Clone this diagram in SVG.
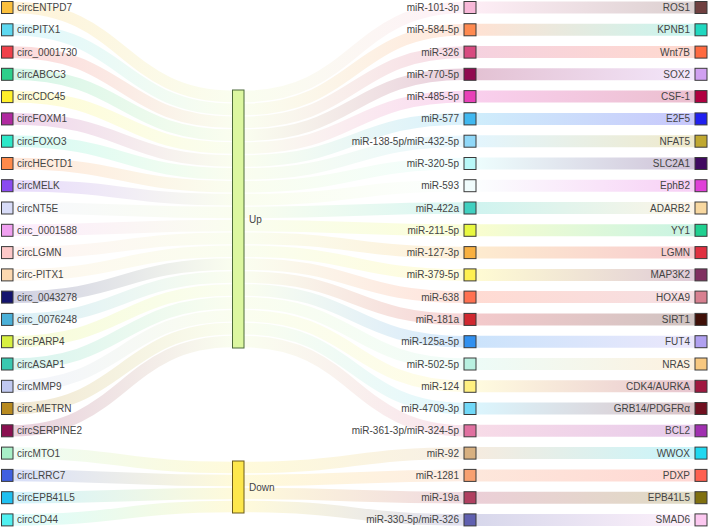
<svg xmlns="http://www.w3.org/2000/svg" width="709" height="528" viewBox="0 0 709 528">
<style>
.lk{fill:none;stroke-width:11.6;stroke-opacity:0.2}
.rk{fill:none;stroke-width:12;stroke-opacity:0.25}
.sq{stroke:#3a3a3a;stroke-width:1}
.t{font-family:"Liberation Sans",Arial,sans-serif;font-size:10px;fill:#444}
.e{text-anchor:end}
</style>
<defs>
<linearGradient id="gl0" gradientUnits="userSpaceOnUse" x1="13" x2="233"><stop offset="0" stop-color="#fbbf3c"/><stop offset="1" stop-color="#e6f7b0"/></linearGradient>
<linearGradient id="gl1" gradientUnits="userSpaceOnUse" x1="13" x2="233"><stop offset="0" stop-color="#5dd8f0"/><stop offset="1" stop-color="#e6f7b0"/></linearGradient>
<linearGradient id="gl2" gradientUnits="userSpaceOnUse" x1="13" x2="233"><stop offset="0" stop-color="#f0404a"/><stop offset="1" stop-color="#e6f7b0"/></linearGradient>
<linearGradient id="gl3" gradientUnits="userSpaceOnUse" x1="13" x2="233"><stop offset="0" stop-color="#2ecf8a"/><stop offset="1" stop-color="#e6f7b0"/></linearGradient>
<linearGradient id="gl4" gradientUnits="userSpaceOnUse" x1="13" x2="233"><stop offset="0" stop-color="#fff02a"/><stop offset="1" stop-color="#e6f7b0"/></linearGradient>
<linearGradient id="gl5" gradientUnits="userSpaceOnUse" x1="13" x2="233"><stop offset="0" stop-color="#b02aa0"/><stop offset="1" stop-color="#e6f7b0"/></linearGradient>
<linearGradient id="gl6" gradientUnits="userSpaceOnUse" x1="13" x2="233"><stop offset="0" stop-color="#2ee8c8"/><stop offset="1" stop-color="#e6f7b0"/></linearGradient>
<linearGradient id="gl7" gradientUnits="userSpaceOnUse" x1="13" x2="233"><stop offset="0" stop-color="#ff8a4a"/><stop offset="1" stop-color="#e6f7b0"/></linearGradient>
<linearGradient id="gl8" gradientUnits="userSpaceOnUse" x1="13" x2="233"><stop offset="0" stop-color="#8a4af0"/><stop offset="1" stop-color="#e6f7b0"/></linearGradient>
<linearGradient id="gl9" gradientUnits="userSpaceOnUse" x1="13" x2="233"><stop offset="0" stop-color="#d8dcf8"/><stop offset="1" stop-color="#e6f7b0"/></linearGradient>
<linearGradient id="gl10" gradientUnits="userSpaceOnUse" x1="13" x2="233"><stop offset="0" stop-color="#f0a0f0"/><stop offset="1" stop-color="#e6f7b0"/></linearGradient>
<linearGradient id="gl11" gradientUnits="userSpaceOnUse" x1="13" x2="233"><stop offset="0" stop-color="#fcc8c8"/><stop offset="1" stop-color="#e6f7b0"/></linearGradient>
<linearGradient id="gl12" gradientUnits="userSpaceOnUse" x1="13" x2="233"><stop offset="0" stop-color="#fcd8b0"/><stop offset="1" stop-color="#e6f7b0"/></linearGradient>
<linearGradient id="gl13" gradientUnits="userSpaceOnUse" x1="13" x2="233"><stop offset="0" stop-color="#14146e"/><stop offset="1" stop-color="#e6f7b0"/></linearGradient>
<linearGradient id="gl14" gradientUnits="userSpaceOnUse" x1="13" x2="233"><stop offset="0" stop-color="#4ab0d8"/><stop offset="1" stop-color="#e6f7b0"/></linearGradient>
<linearGradient id="gl15" gradientUnits="userSpaceOnUse" x1="13" x2="233"><stop offset="0" stop-color="#d8f040"/><stop offset="1" stop-color="#e6f7b0"/></linearGradient>
<linearGradient id="gl16" gradientUnits="userSpaceOnUse" x1="13" x2="233"><stop offset="0" stop-color="#3ac8b0"/><stop offset="1" stop-color="#e6f7b0"/></linearGradient>
<linearGradient id="gl17" gradientUnits="userSpaceOnUse" x1="13" x2="233"><stop offset="0" stop-color="#c0c8f0"/><stop offset="1" stop-color="#e6f7b0"/></linearGradient>
<linearGradient id="gl18" gradientUnits="userSpaceOnUse" x1="13" x2="233"><stop offset="0" stop-color="#b88a20"/><stop offset="1" stop-color="#e6f7b0"/></linearGradient>
<linearGradient id="gl19" gradientUnits="userSpaceOnUse" x1="13" x2="233"><stop offset="0" stop-color="#8a1050"/><stop offset="1" stop-color="#e6f7b0"/></linearGradient>
<linearGradient id="gl20" gradientUnits="userSpaceOnUse" x1="13" x2="233"><stop offset="0" stop-color="#a8f0c8"/><stop offset="1" stop-color="#fde74c"/></linearGradient>
<linearGradient id="gl21" gradientUnits="userSpaceOnUse" x1="13" x2="233"><stop offset="0" stop-color="#4060e0"/><stop offset="1" stop-color="#fde74c"/></linearGradient>
<linearGradient id="gl22" gradientUnits="userSpaceOnUse" x1="13" x2="233"><stop offset="0" stop-color="#20c0f0"/><stop offset="1" stop-color="#fde74c"/></linearGradient>
<linearGradient id="gl23" gradientUnits="userSpaceOnUse" x1="13" x2="233"><stop offset="0" stop-color="#50f0f0"/><stop offset="1" stop-color="#fde74c"/></linearGradient>

<linearGradient id="gm0" gradientUnits="userSpaceOnUse" x1="244" x2="464"><stop offset="0" stop-color="#e6f7b0"/><stop offset="1" stop-color="#f8b8d8"/></linearGradient>
<linearGradient id="gm1" gradientUnits="userSpaceOnUse" x1="244" x2="464"><stop offset="0" stop-color="#e6f7b0"/><stop offset="1" stop-color="#ff8a50"/></linearGradient>
<linearGradient id="gm2" gradientUnits="userSpaceOnUse" x1="244" x2="464"><stop offset="0" stop-color="#e6f7b0"/><stop offset="1" stop-color="#d84a80"/></linearGradient>
<linearGradient id="gm3" gradientUnits="userSpaceOnUse" x1="244" x2="464"><stop offset="0" stop-color="#e6f7b0"/><stop offset="1" stop-color="#900a50"/></linearGradient>
<linearGradient id="gm4" gradientUnits="userSpaceOnUse" x1="244" x2="464"><stop offset="0" stop-color="#e6f7b0"/><stop offset="1" stop-color="#e840b8"/></linearGradient>
<linearGradient id="gm5" gradientUnits="userSpaceOnUse" x1="244" x2="464"><stop offset="0" stop-color="#e6f7b0"/><stop offset="1" stop-color="#40b8f0"/></linearGradient>
<linearGradient id="gm6" gradientUnits="userSpaceOnUse" x1="244" x2="464"><stop offset="0" stop-color="#e6f7b0"/><stop offset="1" stop-color="#90d8f8"/></linearGradient>
<linearGradient id="gm7" gradientUnits="userSpaceOnUse" x1="244" x2="464"><stop offset="0" stop-color="#e6f7b0"/><stop offset="1" stop-color="#b8f8f8"/></linearGradient>
<linearGradient id="gm8" gradientUnits="userSpaceOnUse" x1="244" x2="464"><stop offset="0" stop-color="#e6f7b0"/><stop offset="1" stop-color="#f0fcfc"/></linearGradient>
<linearGradient id="gm9" gradientUnits="userSpaceOnUse" x1="244" x2="464"><stop offset="0" stop-color="#e6f7b0"/><stop offset="1" stop-color="#40d0c0"/></linearGradient>
<linearGradient id="gm10" gradientUnits="userSpaceOnUse" x1="244" x2="464"><stop offset="0" stop-color="#e6f7b0"/><stop offset="1" stop-color="#e8f840"/></linearGradient>
<linearGradient id="gm11" gradientUnits="userSpaceOnUse" x1="244" x2="464"><stop offset="0" stop-color="#e6f7b0"/><stop offset="1" stop-color="#f8b040"/></linearGradient>
<linearGradient id="gm12" gradientUnits="userSpaceOnUse" x1="244" x2="464"><stop offset="0" stop-color="#e6f7b0"/><stop offset="1" stop-color="#fff050"/></linearGradient>
<linearGradient id="gm13" gradientUnits="userSpaceOnUse" x1="244" x2="464"><stop offset="0" stop-color="#e6f7b0"/><stop offset="1" stop-color="#ff7050"/></linearGradient>
<linearGradient id="gm14" gradientUnits="userSpaceOnUse" x1="244" x2="464"><stop offset="0" stop-color="#e6f7b0"/><stop offset="1" stop-color="#d02830"/></linearGradient>
<linearGradient id="gm15" gradientUnits="userSpaceOnUse" x1="244" x2="464"><stop offset="0" stop-color="#e6f7b0"/><stop offset="1" stop-color="#3090f0"/></linearGradient>
<linearGradient id="gm16" gradientUnits="userSpaceOnUse" x1="244" x2="464"><stop offset="0" stop-color="#e6f7b0"/><stop offset="1" stop-color="#b8f0e0"/></linearGradient>
<linearGradient id="gm17" gradientUnits="userSpaceOnUse" x1="244" x2="464"><stop offset="0" stop-color="#e6f7b0"/><stop offset="1" stop-color="#fff080"/></linearGradient>
<linearGradient id="gm18" gradientUnits="userSpaceOnUse" x1="244" x2="464"><stop offset="0" stop-color="#e6f7b0"/><stop offset="1" stop-color="#70d8f8"/></linearGradient>
<linearGradient id="gm19" gradientUnits="userSpaceOnUse" x1="244" x2="464"><stop offset="0" stop-color="#e6f7b0"/><stop offset="1" stop-color="#e070a0"/></linearGradient>
<linearGradient id="gm20" gradientUnits="userSpaceOnUse" x1="244" x2="464"><stop offset="0" stop-color="#fde74c"/><stop offset="1" stop-color="#d8b080"/></linearGradient>
<linearGradient id="gm21" gradientUnits="userSpaceOnUse" x1="244" x2="464"><stop offset="0" stop-color="#fde74c"/><stop offset="1" stop-color="#f8a070"/></linearGradient>
<linearGradient id="gm22" gradientUnits="userSpaceOnUse" x1="244" x2="464"><stop offset="0" stop-color="#fde74c"/><stop offset="1" stop-color="#b04060"/></linearGradient>
<linearGradient id="gm23" gradientUnits="userSpaceOnUse" x1="244" x2="464"><stop offset="0" stop-color="#fde74c"/><stop offset="1" stop-color="#6060b0"/></linearGradient>

<linearGradient id="gr0" gradientUnits="userSpaceOnUse" x1="476" x2="695"><stop offset="0" stop-color="#f8b8d8"/><stop offset="1" stop-color="#704040"/></linearGradient>
<linearGradient id="gr1" gradientUnits="userSpaceOnUse" x1="476" x2="695"><stop offset="0" stop-color="#ff8a50"/><stop offset="1" stop-color="#20d8c0"/></linearGradient>
<linearGradient id="gr2" gradientUnits="userSpaceOnUse" x1="476" x2="695"><stop offset="0" stop-color="#d84a80"/><stop offset="1" stop-color="#ff6a40"/></linearGradient>
<linearGradient id="gr3" gradientUnits="userSpaceOnUse" x1="476" x2="695"><stop offset="0" stop-color="#900a50"/><stop offset="1" stop-color="#d0a0f0"/></linearGradient>
<linearGradient id="gr4" gradientUnits="userSpaceOnUse" x1="476" x2="695"><stop offset="0" stop-color="#e840b8"/><stop offset="1" stop-color="#b00040"/></linearGradient>
<linearGradient id="gr5" gradientUnits="userSpaceOnUse" x1="476" x2="695"><stop offset="0" stop-color="#40b8f0"/><stop offset="1" stop-color="#2020f0"/></linearGradient>
<linearGradient id="gr6" gradientUnits="userSpaceOnUse" x1="476" x2="695"><stop offset="0" stop-color="#90d8f8"/><stop offset="1" stop-color="#c0a830"/></linearGradient>
<linearGradient id="gr7" gradientUnits="userSpaceOnUse" x1="476" x2="695"><stop offset="0" stop-color="#b8f8f8"/><stop offset="1" stop-color="#400a60"/></linearGradient>
<linearGradient id="gr8" gradientUnits="userSpaceOnUse" x1="476" x2="695"><stop offset="0" stop-color="#f0fcfc"/><stop offset="1" stop-color="#e040d8"/></linearGradient>
<linearGradient id="gr9" gradientUnits="userSpaceOnUse" x1="476" x2="695"><stop offset="0" stop-color="#40d0c0"/><stop offset="1" stop-color="#f8d8a0"/></linearGradient>
<linearGradient id="gr10" gradientUnits="userSpaceOnUse" x1="476" x2="695"><stop offset="0" stop-color="#e8f840"/><stop offset="1" stop-color="#20d090"/></linearGradient>
<linearGradient id="gr11" gradientUnits="userSpaceOnUse" x1="476" x2="695"><stop offset="0" stop-color="#f8b040"/><stop offset="1" stop-color="#e03040"/></linearGradient>
<linearGradient id="gr12" gradientUnits="userSpaceOnUse" x1="476" x2="695"><stop offset="0" stop-color="#fff050"/><stop offset="1" stop-color="#803060"/></linearGradient>
<linearGradient id="gr13" gradientUnits="userSpaceOnUse" x1="476" x2="695"><stop offset="0" stop-color="#ff7050"/><stop offset="1" stop-color="#d88090"/></linearGradient>
<linearGradient id="gr14" gradientUnits="userSpaceOnUse" x1="476" x2="695"><stop offset="0" stop-color="#d02830"/><stop offset="1" stop-color="#401008"/></linearGradient>
<linearGradient id="gr15" gradientUnits="userSpaceOnUse" x1="476" x2="695"><stop offset="0" stop-color="#3090f0"/><stop offset="1" stop-color="#b0a0f0"/></linearGradient>
<linearGradient id="gr16" gradientUnits="userSpaceOnUse" x1="476" x2="695"><stop offset="0" stop-color="#b8f0e0"/><stop offset="1" stop-color="#f8c880"/></linearGradient>
<linearGradient id="gr17" gradientUnits="userSpaceOnUse" x1="476" x2="695"><stop offset="0" stop-color="#fff080"/><stop offset="1" stop-color="#a01840"/></linearGradient>
<linearGradient id="gr18" gradientUnits="userSpaceOnUse" x1="476" x2="695"><stop offset="0" stop-color="#70d8f8"/><stop offset="1" stop-color="#701020"/></linearGradient>
<linearGradient id="gr19" gradientUnits="userSpaceOnUse" x1="476" x2="695"><stop offset="0" stop-color="#e070a0"/><stop offset="1" stop-color="#a030b0"/></linearGradient>
<linearGradient id="gr20" gradientUnits="userSpaceOnUse" x1="476" x2="695"><stop offset="0" stop-color="#d8b080"/><stop offset="1" stop-color="#20d8f0"/></linearGradient>
<linearGradient id="gr21" gradientUnits="userSpaceOnUse" x1="476" x2="695"><stop offset="0" stop-color="#f8a070"/><stop offset="1" stop-color="#ff6050"/></linearGradient>
<linearGradient id="gr22" gradientUnits="userSpaceOnUse" x1="476" x2="695"><stop offset="0" stop-color="#b04060"/><stop offset="1" stop-color="#807010"/></linearGradient>
<linearGradient id="gr23" gradientUnits="userSpaceOnUse" x1="476" x2="695"><stop offset="0" stop-color="#6060b0"/><stop offset="1" stop-color="#fcc8f0"/></linearGradient>
</defs>
<rect width="709" height="528" fill="#fff"/>
<g id="links">
<path class="lk" stroke="url(#gl0)" d="M13,7.5C123,7.5 123,96.45 233,96.45"/>
<path class="lk" stroke="url(#gl1)" d="M13,29.8C123,29.8 123,109.35 233,109.35"/>
<path class="lk" stroke="url(#gl2)" d="M13,52.1C123,52.1 123,122.25 233,122.25"/>
<path class="lk" stroke="url(#gl3)" d="M13,74.3C123,74.3 123,135.15 233,135.15"/>
<path class="lk" stroke="url(#gl4)" d="M13,96.6C123,96.6 123,148.05 233,148.05"/>
<path class="lk" stroke="url(#gl5)" d="M13,118.9C123,118.9 123,160.95 233,160.95"/>
<path class="lk" stroke="url(#gl6)" d="M13,141.2C123,141.2 123,173.85 233,173.85"/>
<path class="lk" stroke="url(#gl7)" d="M13,163.5C123,163.5 123,186.75 233,186.75"/>
<path class="lk" stroke="url(#gl8)" d="M13,185.7C123,185.7 123,199.65 233,199.65"/>
<path class="lk" stroke="url(#gl9)" d="M13,208C123,208 123,212.55 233,212.55"/>
<path class="lk" stroke="url(#gl10)" d="M13,230.3C123,230.3 123,225.45 233,225.45"/>
<path class="lk" stroke="url(#gl11)" d="M13,252.6C123,252.6 123,238.35 233,238.35"/>
<path class="lk" stroke="url(#gl12)" d="M13,274.9C123,274.9 123,251.25 233,251.25"/>
<path class="lk" stroke="url(#gl13)" d="M13,297.1C123,297.1 123,264.15 233,264.15"/>
<path class="lk" stroke="url(#gl14)" d="M13,319.4C123,319.4 123,277.05 233,277.05"/>
<path class="lk" stroke="url(#gl15)" d="M13,341.7C123,341.7 123,289.95 233,289.95"/>
<path class="lk" stroke="url(#gl16)" d="M13,364C123,364 123,302.85 233,302.85"/>
<path class="lk" stroke="url(#gl17)" d="M13,386.3C123,386.3 123,315.75 233,315.75"/>
<path class="lk" stroke="url(#gl18)" d="M13,408.5C123,408.5 123,328.65 233,328.65"/>
<path class="lk" stroke="url(#gl19)" d="M13,430.8C123,430.8 123,341.55 233,341.55"/>
<path class="lk" stroke="url(#gl20)" d="M13,453.1C123,453.1 123,467.5 233,467.5"/>
<path class="lk" stroke="url(#gl21)" d="M13,475.4C123,475.4 123,480.5 233,480.5"/>
<path class="lk" stroke="url(#gl22)" d="M13,497.7C123,497.7 123,493.5 233,493.5"/>
<path class="lk" stroke="url(#gl23)" d="M13,519.9C123,519.9 123,506.5 233,506.5"/>

<path class="lk" stroke="url(#gm0)" d="M244,96.45C354,96.45 354,7.5 464,7.5"/>
<path class="lk" stroke="url(#gm1)" d="M244,109.35C354,109.35 354,29.8 464,29.8"/>
<path class="lk" stroke="url(#gm2)" d="M244,122.25C354,122.25 354,52.1 464,52.1"/>
<path class="lk" stroke="url(#gm3)" d="M244,135.15C354,135.15 354,74.3 464,74.3"/>
<path class="lk" stroke="url(#gm4)" d="M244,148.05C354,148.05 354,96.6 464,96.6"/>
<path class="lk" stroke="url(#gm5)" d="M244,160.95C354,160.95 354,118.9 464,118.9"/>
<path class="lk" stroke="url(#gm6)" d="M244,173.85C354,173.85 354,141.2 464,141.2"/>
<path class="lk" stroke="url(#gm7)" d="M244,186.75C354,186.75 354,163.5 464,163.5"/>
<path class="lk" stroke="url(#gm8)" d="M244,199.65C354,199.65 354,185.7 464,185.7"/>
<path class="lk" stroke="url(#gm9)" d="M244,212.55C354,212.55 354,208 464,208"/>
<path class="lk" stroke="url(#gm10)" d="M244,225.45C354,225.45 354,230.3 464,230.3"/>
<path class="lk" stroke="url(#gm11)" d="M244,238.35C354,238.35 354,252.6 464,252.6"/>
<path class="lk" stroke="url(#gm12)" d="M244,251.25C354,251.25 354,274.9 464,274.9"/>
<path class="lk" stroke="url(#gm13)" d="M244,264.15C354,264.15 354,297.1 464,297.1"/>
<path class="lk" stroke="url(#gm14)" d="M244,277.05C354,277.05 354,319.4 464,319.4"/>
<path class="lk" stroke="url(#gm15)" d="M244,289.95C354,289.95 354,341.7 464,341.7"/>
<path class="lk" stroke="url(#gm16)" d="M244,302.85C354,302.85 354,364 464,364"/>
<path class="lk" stroke="url(#gm17)" d="M244,315.75C354,315.75 354,386.3 464,386.3"/>
<path class="lk" stroke="url(#gm18)" d="M244,328.65C354,328.65 354,408.5 464,408.5"/>
<path class="lk" stroke="url(#gm19)" d="M244,341.55C354,341.55 354,430.8 464,430.8"/>
<path class="lk" stroke="url(#gm20)" d="M244,467.5C354,467.5 354,453.1 464,453.1"/>
<path class="lk" stroke="url(#gm21)" d="M244,480.5C354,480.5 354,475.4 464,475.4"/>
<path class="lk" stroke="url(#gm22)" d="M244,493.5C354,493.5 354,497.7 464,497.7"/>
<path class="lk" stroke="url(#gm23)" d="M244,506.5C354,506.5 354,519.9 464,519.9"/>

<path class="rk" stroke="url(#gr0)" d="M476,7.5H695"/>
<path class="rk" stroke="url(#gr1)" d="M476,29.8H695"/>
<path class="rk" stroke="url(#gr2)" d="M476,52.1H695"/>
<path class="rk" stroke="url(#gr3)" d="M476,74.3H695"/>
<path class="rk" stroke="url(#gr4)" d="M476,96.6H695"/>
<path class="rk" stroke="url(#gr5)" d="M476,118.9H695"/>
<path class="rk" stroke="url(#gr6)" d="M476,141.2H695"/>
<path class="rk" stroke="url(#gr7)" d="M476,163.5H695"/>
<path class="rk" stroke="url(#gr8)" d="M476,185.7H695"/>
<path class="rk" stroke="url(#gr9)" d="M476,208H695"/>
<path class="rk" stroke="url(#gr10)" d="M476,230.3H695"/>
<path class="rk" stroke="url(#gr11)" d="M476,252.6H695"/>
<path class="rk" stroke="url(#gr12)" d="M476,274.9H695"/>
<path class="rk" stroke="url(#gr13)" d="M476,297.1H695"/>
<path class="rk" stroke="url(#gr14)" d="M476,319.4H695"/>
<path class="rk" stroke="url(#gr15)" d="M476,341.7H695"/>
<path class="rk" stroke="url(#gr16)" d="M476,364H695"/>
<path class="rk" stroke="url(#gr17)" d="M476,386.3H695"/>
<path class="rk" stroke="url(#gr18)" d="M476,408.5H695"/>
<path class="rk" stroke="url(#gr19)" d="M476,430.8H695"/>
<path class="rk" stroke="url(#gr20)" d="M476,453.1H695"/>
<path class="rk" stroke="url(#gr21)" d="M476,475.4H695"/>
<path class="rk" stroke="url(#gr22)" d="M476,497.7H695"/>
<path class="rk" stroke="url(#gr23)" d="M476,519.9H695"/>
</g>

<g id="up"><rect x="232.5" y="90" width="11.5" height="258" fill="#dcf7a0" stroke="#4d6b3a"/><text class="t" x="249" y="223">Up</text></g>
<g id="down"><rect x="232.5" y="461" width="11.5" height="52" fill="#fde74c" stroke="#6b5a1a"/><text class="t" x="249" y="491">Down</text></g>

<g id="c0"><rect class="sq" x="1.5" y="1.5" width="11.5" height="12" fill="#fbbf3c"/><text class="t" x="17" y="11">circENTPD7</text></g>
<g id="c1"><rect class="sq" x="1.5" y="23.8" width="11.5" height="12" fill="#5dd8f0"/><text class="t" x="17" y="33.3">circPITX1</text></g>
<g id="c2"><rect class="sq" x="1.5" y="46.1" width="11.5" height="12" fill="#f0404a"/><text class="t" x="17" y="55.6">circ_0001730</text></g>
<g id="c3"><rect class="sq" x="1.5" y="68.3" width="11.5" height="12" fill="#2ecf8a"/><text class="t" x="17" y="77.8">circABCC3</text></g>
<g id="c4"><rect class="sq" x="1.5" y="90.6" width="11.5" height="12" fill="#fff02a"/><text class="t" x="17" y="100.1">circCDC45</text></g>
<g id="c5"><rect class="sq" x="1.5" y="112.9" width="11.5" height="12" fill="#b02aa0"/><text class="t" x="17" y="122.4">circFOXM1</text></g>
<g id="c6"><rect class="sq" x="1.5" y="135.2" width="11.5" height="12" fill="#2ee8c8"/><text class="t" x="17" y="144.7">circFOXO3</text></g>
<g id="c7"><rect class="sq" x="1.5" y="157.5" width="11.5" height="12" fill="#ff8a4a"/><text class="t" x="17" y="167">circHECTD1</text></g>
<g id="c8"><rect class="sq" x="1.5" y="179.7" width="11.5" height="12" fill="#8a4af0"/><text class="t" x="17" y="189.2">circMELK</text></g>
<g id="c9"><rect class="sq" x="1.5" y="202" width="11.5" height="12" fill="#d8dcf8"/><text class="t" x="17" y="211.5">circNT5E</text></g>
<g id="c10"><rect class="sq" x="1.5" y="224.3" width="11.5" height="12" fill="#f0a0f0"/><text class="t" x="17" y="233.8">circ_0001588</text></g>
<g id="c11"><rect class="sq" x="1.5" y="246.6" width="11.5" height="12" fill="#fcc8c8"/><text class="t" x="17" y="256.1">circLGMN</text></g>
<g id="c12"><rect class="sq" x="1.5" y="268.9" width="11.5" height="12" fill="#fcd8b0"/><text class="t" x="17" y="278.4">circ-PITX1</text></g>
<g id="c13"><rect class="sq" x="1.5" y="291.1" width="11.5" height="12" fill="#14146e"/><text class="t" x="17" y="300.6">circ_0043278</text></g>
<g id="c14"><rect class="sq" x="1.5" y="313.4" width="11.5" height="12" fill="#4ab0d8"/><text class="t" x="17" y="322.9">circ_0076248</text></g>
<g id="c15"><rect class="sq" x="1.5" y="335.7" width="11.5" height="12" fill="#d8f040"/><text class="t" x="17" y="345.2">circPARP4</text></g>
<g id="c16"><rect class="sq" x="1.5" y="358" width="11.5" height="12" fill="#3ac8b0"/><text class="t" x="17" y="367.5">circASAP1</text></g>
<g id="c17"><rect class="sq" x="1.5" y="380.3" width="11.5" height="12" fill="#c0c8f0"/><text class="t" x="17" y="389.8">circMMP9</text></g>
<g id="c18"><rect class="sq" x="1.5" y="402.5" width="11.5" height="12" fill="#b88a20"/><text class="t" x="17" y="412">circ-METRN</text></g>
<g id="c19"><rect class="sq" x="1.5" y="424.8" width="11.5" height="12" fill="#8a1050"/><text class="t" x="17" y="434.3">circSERPINE2</text></g>
<g id="c20"><rect class="sq" x="1.5" y="447.1" width="11.5" height="12" fill="#a8f0c8"/><text class="t" x="17" y="456.6">circMTO1</text></g>
<g id="c21"><rect class="sq" x="1.5" y="469.4" width="11.5" height="12" fill="#4060e0"/><text class="t" x="17" y="478.9">circLRRC7</text></g>
<g id="c22"><rect class="sq" x="1.5" y="491.7" width="11.5" height="12" fill="#20c0f0"/><text class="t" x="17" y="501.2">circEPB41L5</text></g>
<g id="c23"><rect class="sq" x="1.5" y="513.9" width="11.5" height="12" fill="#50f0f0"/><text class="t" x="17" y="523.4">circCD44</text></g>

<g id="m0"><rect class="sq" x="464" y="1.5" width="12" height="12" fill="#f8b8d8"/><text class="t e" x="459" y="11">miR-101-3p</text></g>
<g id="m1"><rect class="sq" x="464" y="23.8" width="12" height="12" fill="#ff8a50"/><text class="t e" x="459" y="33.3">miR-584-5p</text></g>
<g id="m2"><rect class="sq" x="464" y="46.1" width="12" height="12" fill="#d84a80"/><text class="t e" x="459" y="55.6">miR-326</text></g>
<g id="m3"><rect class="sq" x="464" y="68.3" width="12" height="12" fill="#900a50"/><text class="t e" x="459" y="77.8">miR-770-5p</text></g>
<g id="m4"><rect class="sq" x="464" y="90.6" width="12" height="12" fill="#e840b8"/><text class="t e" x="459" y="100.1">miR-485-5p</text></g>
<g id="m5"><rect class="sq" x="464" y="112.9" width="12" height="12" fill="#40b8f0"/><text class="t e" x="459" y="122.4">miR-577</text></g>
<g id="m6"><rect class="sq" x="464" y="135.2" width="12" height="12" fill="#90d8f8"/><text class="t e" x="459" y="144.7">miR-138-5p/miR-432-5p</text></g>
<g id="m7"><rect class="sq" x="464" y="157.5" width="12" height="12" fill="#b8f8f8"/><text class="t e" x="459" y="167">miR-320-5p</text></g>
<g id="m8"><rect class="sq" x="464" y="179.7" width="12" height="12" fill="#f0fcfc"/><text class="t e" x="459" y="189.2">miR-593</text></g>
<g id="m9"><rect class="sq" x="464" y="202" width="12" height="12" fill="#40d0c0"/><text class="t e" x="459" y="211.5">miR-422a</text></g>
<g id="m10"><rect class="sq" x="464" y="224.3" width="12" height="12" fill="#e8f840"/><text class="t e" x="459" y="233.8">miR-211-5p</text></g>
<g id="m11"><rect class="sq" x="464" y="246.6" width="12" height="12" fill="#f8b040"/><text class="t e" x="459" y="256.1">miR-127-3p</text></g>
<g id="m12"><rect class="sq" x="464" y="268.9" width="12" height="12" fill="#fff050"/><text class="t e" x="459" y="278.4">miR-379-5p</text></g>
<g id="m13"><rect class="sq" x="464" y="291.1" width="12" height="12" fill="#ff7050"/><text class="t e" x="459" y="300.6">miR-638</text></g>
<g id="m14"><rect class="sq" x="464" y="313.4" width="12" height="12" fill="#d02830"/><text class="t e" x="459" y="322.9">miR-181a</text></g>
<g id="m15"><rect class="sq" x="464" y="335.7" width="12" height="12" fill="#3090f0"/><text class="t e" x="459" y="345.2">miR-125a-5p</text></g>
<g id="m16"><rect class="sq" x="464" y="358" width="12" height="12" fill="#b8f0e0"/><text class="t e" x="459" y="367.5">miR-502-5p</text></g>
<g id="m17"><rect class="sq" x="464" y="380.3" width="12" height="12" fill="#fff080"/><text class="t e" x="459" y="389.8">miR-124</text></g>
<g id="m18"><rect class="sq" x="464" y="402.5" width="12" height="12" fill="#70d8f8"/><text class="t e" x="459" y="412">miR-4709-3p</text></g>
<g id="m19"><rect class="sq" x="464" y="424.8" width="12" height="12" fill="#e070a0"/><text class="t e" x="459" y="434.3">miR-361-3p/miR-324-5p</text></g>
<g id="m20"><rect class="sq" x="464" y="447.1" width="12" height="12" fill="#d8b080"/><text class="t e" x="459" y="456.6">miR-92</text></g>
<g id="m21"><rect class="sq" x="464" y="469.4" width="12" height="12" fill="#f8a070"/><text class="t e" x="459" y="478.9">miR-1281</text></g>
<g id="m22"><rect class="sq" x="464" y="491.7" width="12" height="12" fill="#b04060"/><text class="t e" x="459" y="501.2">miR-19a</text></g>
<g id="m23"><rect class="sq" x="464" y="513.9" width="12" height="12" fill="#6060b0"/><text class="t e" x="459" y="523.4">miR-330-5p/miR-326</text></g>

<g id="g0"><rect class="sq" x="695" y="1.5" width="12" height="12" fill="#704040"/><text class="t e" x="690" y="11">ROS1</text></g>
<g id="g1"><rect class="sq" x="695" y="23.8" width="12" height="12" fill="#20d8c0"/><text class="t e" x="690" y="33.3">KPNB1</text></g>
<g id="g2"><rect class="sq" x="695" y="46.1" width="12" height="12" fill="#ff6a40"/><text class="t e" x="690" y="55.6">Wnt7B</text></g>
<g id="g3"><rect class="sq" x="695" y="68.3" width="12" height="12" fill="#d0a0f0"/><text class="t e" x="690" y="77.8">SOX2</text></g>
<g id="g4"><rect class="sq" x="695" y="90.6" width="12" height="12" fill="#b00040"/><text class="t e" x="690" y="100.1">CSF-1</text></g>
<g id="g5"><rect class="sq" x="695" y="112.9" width="12" height="12" fill="#2020f0"/><text class="t e" x="690" y="122.4">E2F5</text></g>
<g id="g6"><rect class="sq" x="695" y="135.2" width="12" height="12" fill="#c0a830"/><text class="t e" x="690" y="144.7">NFAT5</text></g>
<g id="g7"><rect class="sq" x="695" y="157.5" width="12" height="12" fill="#400a60"/><text class="t e" x="690" y="167">SLC2A1</text></g>
<g id="g8"><rect class="sq" x="695" y="179.7" width="12" height="12" fill="#e040d8"/><text class="t e" x="690" y="189.2">EphB2</text></g>
<g id="g9"><rect class="sq" x="695" y="202" width="12" height="12" fill="#f8d8a0"/><text class="t e" x="690" y="211.5">ADARB2</text></g>
<g id="g10"><rect class="sq" x="695" y="224.3" width="12" height="12" fill="#20d090"/><text class="t e" x="690" y="233.8">YY1</text></g>
<g id="g11"><rect class="sq" x="695" y="246.6" width="12" height="12" fill="#e03040"/><text class="t e" x="690" y="256.1">LGMN</text></g>
<g id="g12"><rect class="sq" x="695" y="268.9" width="12" height="12" fill="#803060"/><text class="t e" x="690" y="278.4">MAP3K2</text></g>
<g id="g13"><rect class="sq" x="695" y="291.1" width="12" height="12" fill="#d88090"/><text class="t e" x="690" y="300.6">HOXA9</text></g>
<g id="g14"><rect class="sq" x="695" y="313.4" width="12" height="12" fill="#401008"/><text class="t e" x="690" y="322.9">SIRT1</text></g>
<g id="g15"><rect class="sq" x="695" y="335.7" width="12" height="12" fill="#b0a0f0"/><text class="t e" x="690" y="345.2">FUT4</text></g>
<g id="g16"><rect class="sq" x="695" y="358" width="12" height="12" fill="#f8c880"/><text class="t e" x="690" y="367.5">NRAS</text></g>
<g id="g17"><rect class="sq" x="695" y="380.3" width="12" height="12" fill="#a01840"/><text class="t e" x="690" y="389.8">CDK4/AURKA</text></g>
<g id="g18"><rect class="sq" x="695" y="402.5" width="12" height="12" fill="#701020"/><text class="t e" x="690" y="412">GRB14/PDGFRα</text></g>
<g id="g19"><rect class="sq" x="695" y="424.8" width="12" height="12" fill="#a030b0"/><text class="t e" x="690" y="434.3">BCL2</text></g>
<g id="g20"><rect class="sq" x="695" y="447.1" width="12" height="12" fill="#20d8f0"/><text class="t e" x="690" y="456.6">WWOX</text></g>
<g id="g21"><rect class="sq" x="695" y="469.4" width="12" height="12" fill="#ff6050"/><text class="t e" x="690" y="478.9">PDXP</text></g>
<g id="g22"><rect class="sq" x="695" y="491.7" width="12" height="12" fill="#807010"/><text class="t e" x="690" y="501.2">EPB41L5</text></g>
<g id="g23"><rect class="sq" x="695" y="513.9" width="12" height="12" fill="#fcc8f0"/><text class="t e" x="690" y="523.4">SMAD6</text></g>
</svg>
